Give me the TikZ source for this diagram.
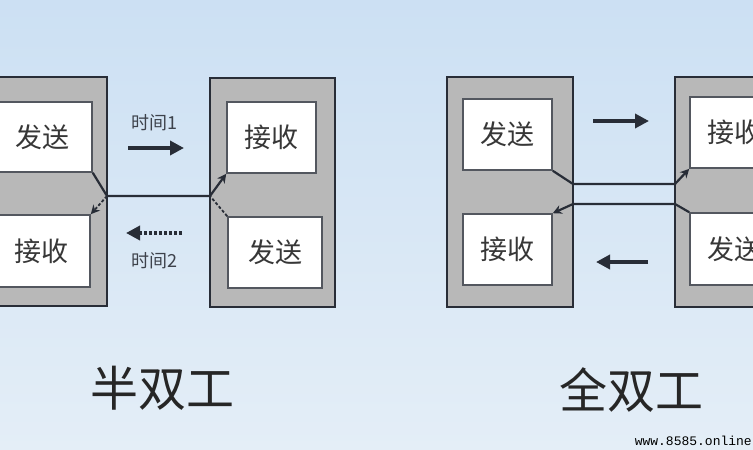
\documentclass[tikz,border=0pt]{standalone}
\usepackage{fontspec}
\newfontfamily\cjk{Noto Sans CJK SC}
\newfontfamily\wmono{Liberation Mono}
\usetikzlibrary{arrows.meta}
\definecolor{bgtop}{RGB}{204,224,243}
\definecolor{bgbot}{RGB}{228,238,247}
\definecolor{outerfill}{RGB}{184,184,184}
\definecolor{edge}{RGB}{40,45,55}
\definecolor{txt}{RGB}{55,55,55}
\tikzset{
  outerbox/.style={draw=edge, line width=2.5pt, fill=outerfill, rectangle, inner sep=0pt},
  innerbox/.style={draw=edge!80, line width=1.6pt, fill=white, rectangle, inner sep=0pt,
     font=\cjk\fontsize{27}{27}\selectfont, text=txt},
  wire/.style={draw=edge, line width=2.2pt},
  dwire/.style={draw=edge, line width=1.8pt, dash pattern=on 3pt off 2pt},
  tipx/.style={-{Stealth[length=9pt,width=9pt]}},
  bigarrow/.style={draw=edge, line width=3.5pt, -{Triangle[length=14pt,width=14pt]}},
  dotarrow/.style={draw=edge, line width=3.5pt, dash pattern=on 3pt off 2pt, -{Triangle[length=14pt,width=14pt]}},
  smalllabel/.style={font=\cjk\fontsize{18}{18}\selectfont, text=edge!90},
  title/.style={font=\cjk\fontsize{48}{48}\selectfont, text=black!85},
}
\begin{document}
\begin{tikzpicture}[x=1pt,y=-1pt]
\useasboundingbox (0,0) rectangle (753,450);
\clip (0,0) rectangle (753,450);
\shade[top color=bgtop, bottom color=bgbot] (0,0) rectangle (753,450);

% ---------- half duplex ----------
\node[outerbox, minimum width=117, minimum height=229] (hlo) at (48.5,191.5) {};
\node[innerbox, minimum width=98, minimum height=70] (hls) at (43,137) {发送};
\node[innerbox, minimum width=96, minimum height=72] (hlr) at (42,251) {接收};
\node[outerbox, minimum width=125, minimum height=229] (hro) at (272.5,192.5) {};
\node[innerbox, minimum width=89, minimum height=71] (hrr) at (271.5,137.5) {接收};
\node[innerbox, minimum width=94, minimum height=71] (hrs) at (275,252.5) {发送};

\coordinate (hj1) at (107,196);
\coordinate (hj2) at (210,196);
\draw[wire] (hls.south east) -- (hj1) -- (hj2);
\draw[wire, tipx] (hj2) -- (hrr.south west);
\draw[dwire] (hrs.north west) -- (hj2);
\draw[dwire, tipx] (hj1) -- (hlr.north east);

\node[smalllabel] (t1) at (154,123) {时间1};
\coordinate (a1s) at (128,148);
\coordinate (a1e) at (184,148);
\draw[bigarrow] (a1s) -- (a1e);
\coordinate (a2s) at (182,233);
\coordinate (a2e) at (126,233);
\draw[dotarrow] (a2s) -- (a2e);
\node[smalllabel] (t2) at (154,261) {时间2};

\node[title] (h) at (162,388) {半双工};

% ---------- full duplex ----------
\node[outerbox, minimum width=126, minimum height=230] (flo) at (510,192) {};
\node[innerbox, minimum width=89, minimum height=71] (fls) at (507.5,134.5) {发送};
\node[innerbox, minimum width=89, minimum height=71] (flr) at (507.5,249.5) {接收};
\node[outerbox, minimum width=100, minimum height=230] (fro) at (725,192) {};
\node[innerbox, minimum width=89, minimum height=71] (frr) at (734.5,132.5) {接收};
\node[innerbox, minimum width=89, minimum height=72] (frs) at (734.5,249) {发送};

\coordinate (fj1) at (573,184);
\coordinate (fj2) at (675,184);
\coordinate (fj3) at (573,204);
\coordinate (fj4) at (675,204);
\draw[wire] (fls.south east) -- (fj1) -- (fj2);
\draw[wire, tipx] (fj2) -- (frr.south west);
\draw[wire] (frs.north west) -- (fj4) -- (fj3);
\draw[wire, tipx] (fj3) -- (flr.north east);

\coordinate (b1s) at (593,121);
\coordinate (b1e) at (649,121);
\draw[bigarrow] (b1s) -- (b1e);
\coordinate (b2s) at (648,262);
\coordinate (b2e) at (596,262);
\draw[bigarrow] (b2s) -- (b2e);

\node[title] (f) at (631,390) {全双工};

\node[font=\wmono\fontsize{13}{13}\selectfont, anchor=east, inner sep=0pt] (wm) at (752,441) {www.8585.online};
\end{tikzpicture}
\end{document}
